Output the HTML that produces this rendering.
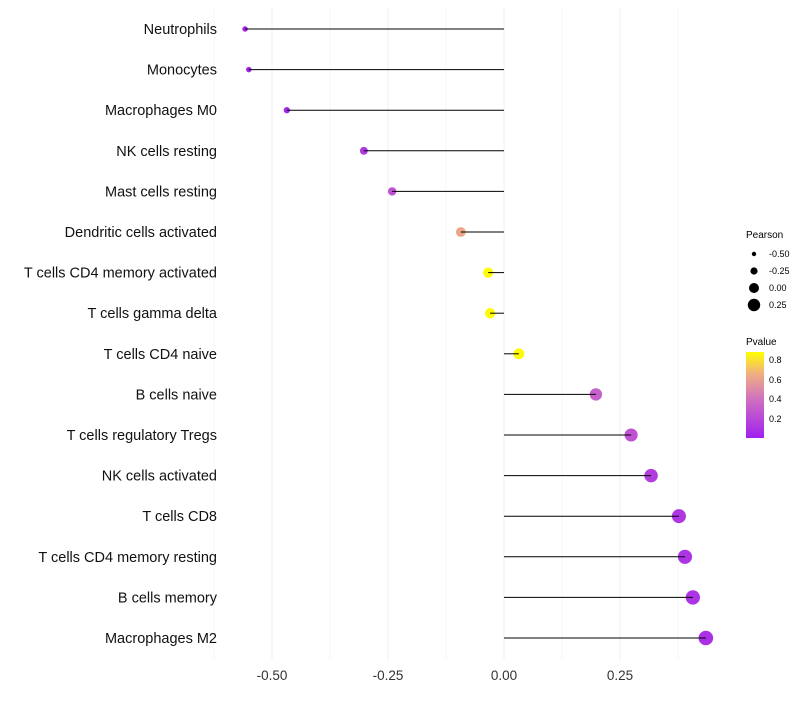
<!DOCTYPE html>
<html><head><meta charset="utf-8"><style>
body{margin:0;background:#fff;font-family:"Liberation Sans",sans-serif}
</style></head><body>
<svg width="800" height="700" xmlns="http://www.w3.org/2000/svg">
<defs><linearGradient id="pg" x1="0" y1="1" x2="0" y2="0">
<stop offset="0" stop-color="#a020f0"/><stop offset="0.45" stop-color="#d070c0"/><stop offset="0.75" stop-color="#f0b080"/><stop offset="1" stop-color="#ffff00"/></linearGradient></defs>
<g id="grid"></g><g id="pts"></g><g id="marks"></g><g id="labels"></g>
<g font-size="9">
<text x="746" y="238" font-size="10">Pearson</text>
<circle cx="754" cy="254" r="2.2"/><text x="769" y="257">-0.50</text>
<circle cx="754" cy="271" r="3.6"/><text x="769" y="274">-0.25</text>
<circle cx="754" cy="288" r="5"/><text x="769" y="291">0.00</text>
<circle cx="754" cy="305" r="6.2"/><text x="769" y="308">0.25</text>
</g>
<g font-size="9">
<text x="746" y="345" font-size="10">Pvalue</text>
<rect x="746" y="352" width="18" height="86" fill="url(#pg)"/>
<text x="769" y="363">0.8</text><text x="769" y="383">0.6</text><text x="769" y="402">0.4</text><text x="769" y="422">0.2</text>
</g>
</svg>
<script>
const categories=["Neutrophils","Monocytes","Macrophages M0","NK cells resting","Mast cells resting","Dendritic cells activated","T cells CD4 memory activated","T cells gamma delta","T cells CD4 naive","B cells naive","T cells regulatory  Tregs ","NK cells activated","T cells CD8","T cells CD4 memory resting","B cells memory","Macrophages M2"];
const pearson=[-0.558,-0.550,-0.468,-0.302,-0.241,-0.093,-0.034,-0.030,0.032,0.198,0.274,0.317,0.377,0.390,0.407,0.435];
const pvalue=[0.01,0.01,0.03,0.12,0.25,0.62,0.87,0.87,0.87,0.32,0.25,0.15,0.12,0.1,0.1,0.08];
const ticks=[-0.5,-0.25,0,0.25];
const tickLabels=["-0.50","-0.25","0.00","0.25"];
const NS="http://www.w3.org/2000/svg";
const x=v=>504+v*464;
const y=i=>29+i*40.6;
const r=v=>Math.max(2,5.3+v*4.6);
function col(p){
 const stops=[[0,[160,32,240]],[0.4,[208,112,192]],[0.66,[240,176,128]],[0.88,[255,255,0]]];
 if(p<=0)return "rgb(160,32,240)";
 for(let k=1;k<stops.length;k++){if(p<=stops[k][0]){const a=stops[k-1],b=stops[k],t=(p-a[0])/(b[0]-a[0]);return "rgb("+a[1].map((c,j)=>Math.round(c+(b[1][j]-c)*t)).join(",")+")";}}
 return "rgb(255,255,0)";
}
function mk(tag,attrs,parent){const e=document.createElementNS(NS,tag);for(const k in attrs)e.setAttribute(k,attrs[k]);parent.appendChild(e);return e;}
const grid=document.getElementById("grid"),marks=document.getElementById("marks"),pts=document.getElementById("pts"),labels=document.getElementById("labels");
for(let k=-5;k<=3;k++){const v=k*0.125;const major=(k%2===0);const l=mk("line",{x1:x(v),x2:x(v),y1:8,y2:660,stroke:major?"#f0f0f0":"#f7f7f7","stroke-width":1},grid);

}
ticks.forEach((t,i)=>{const tx=mk("text",{x:x(t),y:680,"text-anchor":"middle","font-size":13.5,fill:"#333"},labels);tx.textContent=tickLabels[i];

});
categories.forEach((c,i)=>{
 const t=mk("text",{x:217,y:y(i)+5,"text-anchor":"end","font-size":14.5,fill:"#111"},labels);t.textContent=c;
 
 
 const ci=mk("circle",{cx:x(pearson[i]),cy:y(i),r:r(pearson[i]),fill:col(pvalue[i])},pts);
 
 
 const ln=mk("line",{x1:x(0),x2:x(pearson[i]),y1:y(i),y2:y(i),stroke:"#000","stroke-width":1},marks);
 
 
});
</script>
</body></html>
